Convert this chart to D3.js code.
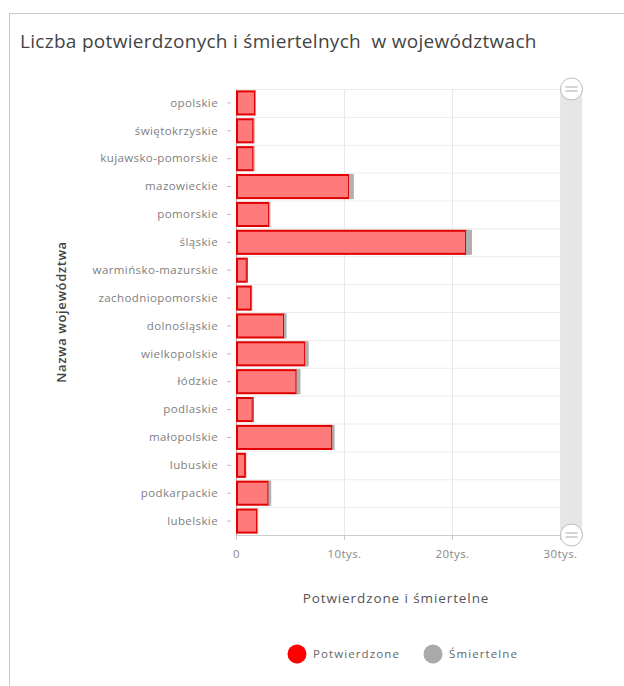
<!DOCTYPE html>
<html>
<head>
<meta charset="utf-8">
<script src="https://cdn.jsdelivr.net/npm/d3@7"></script>
<style>
  body { margin: 0; background: #fff; font-family: 'Open Sans', sans-serif; }
</style>
</head>
<body>
<div id="chart"></div>
<script>
// województwa, top to bottom
const regions = ['opolskie', 'świętokrzyskie', 'kujawsko-pomorskie', 'mazowieckie', 'pomorskie',
  'śląskie', 'warmińsko-mazurskie', 'zachodniopomorskie', 'dolnośląskie', 'wielkopolskie',
  'łódzkie', 'podlaskie', 'małopolskie', 'lubuskie', 'podkarpackie', 'lubelskie'];
const confirmed = [1760, 1600, 1600, 10460, 3060, 21300, 1000, 1400, 4450, 6400,
  5600, 1550, 8900, 850, 3000, 1950];
const deaths = [80, 50, 60, 450, 120, 550, 20, 40, 230, 330, 370, 40, 230, 20, 260, 80];
const xTicks = [0, 10000, 20000, 30000];
const xTickLabels = ['0', '10tys.', '20tys.', '30tys.'];
const seriesNames = ['Potwierdzone', 'Śmiertelne'];
const seriesColors = ['#ff0000', '#aaaaaa'];

const width = 624, height = 686;
const marginLeft = 236, plotRight = 560, plotTop = 89, plotBottom = 535;

const svg = d3.select('#chart').append('svg')
  .attr('width', width)
  .attr('height', height)
  .attr('viewBox', [0, 0, width, height]);

// panel frame
svg.append('rect')
  .attr('x', 9.5).attr('y', 13.5)
  .attr('width', 640).attr('height', 700)
  .attr('fill', '#fff')
  .attr('stroke', '#c8c8c8');

svg.append('text')
  .attr('x', 20).attr('y', 48)
  .attr('fill', '#444')
  .style('font-size', '19px')
  .style('letter-spacing', '0.3px')
  .style('white-space', 'pre')
  .text('Liczba potwierdzonych i śmiertelnych  w województwach');

const x = d3.scaleLinear().domain([0, 30000]).range([marginLeft, plotRight]);
const y = d3.scaleBand().domain(regions).range([plotTop, plotBottom]).paddingInner(0.1).paddingOuter(0.05);

// scrollbar track behind plot
svg.append('rect')
  .attr('x', 561).attr('y', plotTop)
  .attr('width', 21).attr('height', plotBottom - plotTop)
  .attr('fill', '#e6e6e6');

// gridlines
const step = (plotBottom - plotTop) / regions.length;
svg.append('g')
  .attr('stroke', '#ececec')
  .selectAll('line')
  .data(d3.range(regions.length + 1))
  .join('line')
  .attr('x1', marginLeft).attr('x2', plotRight)
  .attr('y1', i => plotTop + i * step + 0.5)
  .attr('y2', i => plotTop + i * step + 0.5);

svg.append('g')
  .attr('stroke', '#e8e8e8')
  .selectAll('line')
  .data(xTicks.slice(1))
  .join('line')
  .attr('x1', d => x(d) + 0.5).attr('x2', d => x(d) + 0.5)
  .attr('y1', plotTop).attr('y2', plotBottom);

// x axis
svg.append('g')
  .attr('transform', `translate(0,${plotBottom})`)
  .call(d3.axisBottom(x).tickValues(xTicks).tickFormat((d, i) => xTickLabels[i]).tickSize(5).tickPadding(10))
  .call(g => g.select('.domain').attr('stroke', '#ccc'))
  .call(g => g.selectAll('.tick line').attr('stroke', '#ccc'))
  .call(g => g.selectAll('.tick text')
    .attr('fill', '#888')
    .style('font-size', '11.5px')
    .style('letter-spacing', '0.4px')
    .style('font-family', 'Open Sans, sans-serif'));

// y axis
svg.append('g')
  .attr('transform', `translate(${marginLeft},0)`)
  .call(d3.axisLeft(y).tickSize(4).tickSizeOuter(0).tickPadding(14))
  .call(g => g.select('.domain').attr('stroke', '#aaa'))
  .call(g => g.selectAll('.tick line').attr('stroke', '#bbb').attr('transform', 'translate(-5,0)'))
  .call(g => g.selectAll('.tick text')
    .attr('fill', '#808080')
    .style('font-size', '11.5px')
    .style('letter-spacing', '0.4px')
    .style('font-family', 'Open Sans, sans-serif'));

// bars: confirmed
svg.append('g')
  .selectAll('rect')
  .data(regions)
  .join('rect')
  .attr('x', x(0) + 1)
  .attr('y', d => y(d) + 1)
  .attr('width', (d, i) => x(confirmed[i]) - x(0) - 1)
  .attr('height', y.bandwidth() - 2)
  .attr('fill', '#ff7b7b')
  .attr('stroke', '#e00000')
  .attr('stroke-width', 2);

// bars: deaths stacked
svg.append('g')
  .selectAll('rect')
  .data(regions)
  .join('rect')
  .attr('x', (d, i) => x(confirmed[i]))
  .attr('y', d => y(d))
  .attr('width', (d, i) => x(confirmed[i] + deaths[i]) - x(confirmed[i]))
  .attr('height', y.bandwidth())
  .attr('fill', '#b0b0b0');

// scrollbar handles
const handles = svg.append('g')
  .selectAll('g')
  .data([plotTop, plotBottom])
  .join('g')
  .attr('transform', d => `translate(571.5,${d})`);
handles.append('circle')
  .attr('r', 11)
  .attr('fill', '#fff')
  .attr('stroke', '#bbb');
handles.append('path')
  .attr('d', 'M-6,-2H6M-6,2H6')
  .attr('stroke', '#aaa')
  .attr('stroke-width', 1.2);

// axis titles
svg.append('text')
  .attr('x', 396).attr('y', 603)
  .attr('text-anchor', 'middle')
  .attr('fill', '#555')
  .style('font-size', '13.5px')
  .style('letter-spacing', '0.9px')
  .text('Potwierdzone i śmiertelne');

svg.append('text')
  .attr('transform', `translate(66,${(plotTop + plotBottom) / 2}) rotate(-90)`)
  .attr('text-anchor', 'middle')
  .attr('fill', '#444')
  .style('font-size', '13px')
  .style('font-weight', 600)
  .style('letter-spacing', '0.6px')
  .text('Nazwa województwa');

// legend
const legend = svg.append('g')
  .selectAll('g')
  .data(seriesNames)
  .join('g')
  .attr('transform', (d, i) => `translate(${297 + i * 136},654)`);
legend.append('circle')
  .attr('r', 9.5)
  .attr('fill', (d, i) => seriesColors[i]);
legend.append('text')
  .attr('x', 16).attr('dy', '0.35em')
  .attr('fill', '#666')
  .style('font-size', '11.5px')
  .style('letter-spacing', '1.1px')
  .text(d => d);
</script>
</body>
</html>
